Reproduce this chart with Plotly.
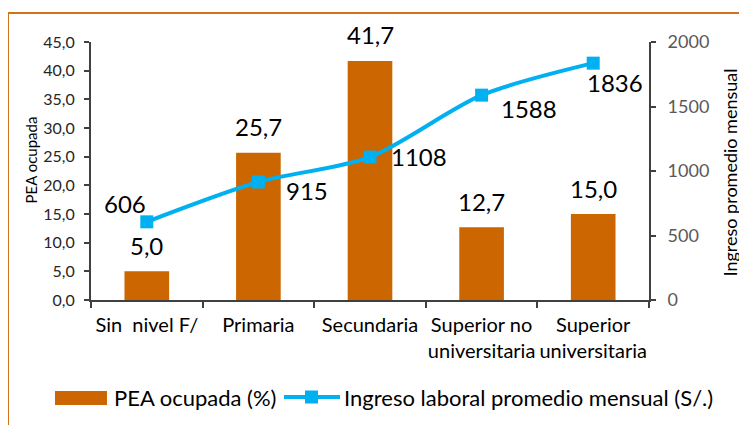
import plotly.graph_objects as go

categories = ["Sin  nivel F/", "Primaria", "Secundaria", "Superior no<br>universitaria", "Superior<br>universitaria"]
pea_ocupada = [5.0, 25.7, 41.7, 12.7, 15.0]
ingreso = [606, 915, 1108, 1588, 1836]
pea_labels = ["5,0", "25,7", "41,7", "12,7", "15,0"]
ingreso_labels = ["606", "915", "1108", "1588", "1836"]
left_ticks = [0, 5, 10, 15, 20, 25, 30, 35, 40, 45]
right_ticks = [0, 500, 1000, 1500, 2000]
series_names = ["PEA ocupada (%)", "Ingreso laboral promedio mensual (S/.)"]
axis_titles = ["PEA ocupada", "Ingreso promedio mensual"]

FONT = "Lato"
BAR_COLOR = "#CC6600"
LINE_COLOR = "#00B0F0"
AXIS_COLOR = "#404040"

# The page body adds an 8px offset; positions below are in screenshot pixels.
OFF = 8
W, H = 747, 425
PLOT_L, PLOT_R, PLOT_T, PLOT_B = 91, 649, 42, 300  # screenshot coords
ML, MT = PLOT_L - OFF, PLOT_T - OFF
MR, MB = W - (PLOT_R - OFF), H - (PLOT_B - OFF)
PW, PH = PLOT_R - PLOT_L, PLOT_B - PLOT_T


def px(x):
    return (x - PLOT_L) / PW


def py(y):
    return (PLOT_B - y) / PH


fig = go.Figure()
fig.add_trace(go.Bar(
    x=categories, y=pea_ocupada, name=series_names[0],
    marker=dict(color=BAR_COLOR, line=dict(width=0)), width=0.4,
    yaxis="y", hoverinfo="skip",
))
fig.add_trace(go.Scatter(
    x=categories, y=ingreso, name=series_names[1],
    mode="lines+markers", yaxis="y2",
    line=dict(color=LINE_COLOR, width=4, shape="spline", smoothing=0.8),
    marker=dict(symbol="square", size=13, color=LINE_COLOR),
    hoverinfo="skip",
))

annotations = []
for c, v, t in zip(categories, pea_ocupada, pea_labels):
    annotations.append(dict(x=c, y=v, xref="x", yref="y", text=t, showarrow=False,
                            yshift=26, font=dict(family=FONT, size=24, color="#000000")))
line_shifts = [(-22, 18), (49, -9), (49, 1), (47, -13), (22, -19)]
for c, v, t, (dx, dy) in zip(categories, ingreso, ingreso_labels, line_shifts):
    annotations.append(dict(x=c, y=v, xref="x", yref="y2", text=t, showarrow=False,
                            xshift=dx, yshift=dy, font=dict(family=FONT, size=24, color="#000000")))

# axis titles
annotations.append(dict(x=px(30), y=py(160.5), xref="paper", yref="paper", text=axis_titles[0],
                        showarrow=False, textangle=-90, xanchor="center", yanchor="middle",
                        font=dict(family=FONT, size=15, color="#000000")))
annotations.append(dict(x=px(729), y=py(172.5), xref="paper", yref="paper", text=axis_titles[1],
                        showarrow=False, textangle=-90, xanchor="center", yanchor="middle",
                        font=dict(family=FONT, size=18, color="#000000")))

# legend texts
LEG_Y = 397
annotations.append(dict(x=px(112), y=py(LEG_Y), xref="paper", yref="paper", text=series_names[0],
                        showarrow=False, xanchor="left", yanchor="middle",
                        font=dict(family=FONT, size=22, color="#000000")))
annotations.append(dict(x=px(342), y=py(LEG_Y), xref="paper", yref="paper", text=series_names[1],
                        showarrow=False, xanchor="left", yanchor="middle",
                        font=dict(family=FONT, size=22, color="#000000")))

shapes = [
    # outer frame
    dict(type="rect", xref="paper", yref="paper", x0=px(8), x1=px(800), y0=py(480), y1=py(13),
         line=dict(color="#D0731F", width=2), fillcolor="rgba(0,0,0,0)", layer="below"),
    # legend swatches
    dict(type="rect", xref="paper", yref="paper", x0=px(55), x1=px(107), y0=py(405), y1=py(391),
         line=dict(width=0), fillcolor=BAR_COLOR),
    dict(type="line", xref="paper", yref="paper", x0=px(284), x1=px(340), y0=py(LEG_Y), y1=py(LEG_Y),
         line=dict(color=LINE_COLOR, width=4)),
    dict(type="rect", xref="paper", yref="paper", x0=px(305), x1=px(318), y0=py(LEG_Y + 6.5), y1=py(LEG_Y - 6.5),
         line=dict(width=0), fillcolor=LINE_COLOR),
]

fig.update_layout(
    width=W, height=H,
    margin=dict(l=ML, r=MR, t=MT, b=MB, autoexpand=False),
    paper_bgcolor="white", plot_bgcolor="white",
    separators=",.",
    font=dict(family=FONT, color="#262626"),
    showlegend=False,
    xaxis=dict(
        showline=True, linecolor=AXIS_COLOR, linewidth=2, ticks="outside",
        tickson="boundaries", ticklen=6, tickcolor=AXIS_COLOR, tickwidth=2,
        tickfont=dict(family=FONT, size=20, color="#000000"), showgrid=False,
        tickangle=0, ticklabelstandoff=6,
        range=[-0.5, 4.5], fixedrange=True, automargin=False,
    ),
    yaxis=dict(
        range=[0, 45], tickvals=left_ticks, tickformat=".1f",
        showline=True, linecolor=AXIS_COLOR, linewidth=2, ticks="outside",
        ticklen=5, tickcolor=AXIS_COLOR, tickwidth=2, showgrid=False, zeroline=False,
        tickfont=dict(family=FONT, size=16, color="#262626"), automargin=False,
        ticklabelstandoff=6,
    ),
    yaxis2=dict(
        range=[0, 2000], tickvals=right_ticks, overlaying="y", side="right",
        showline=True, linecolor=AXIS_COLOR, linewidth=2, ticks="outside",
        ticklen=5, tickcolor=AXIS_COLOR, tickwidth=2, showgrid=False, zeroline=False,
        tickfont=dict(family=FONT, size=18, color="#595959"), automargin=False,
        ticklabelstandoff=8,
    ),
    annotations=annotations,
    shapes=shapes,
)

fig.write_html("out.html")
